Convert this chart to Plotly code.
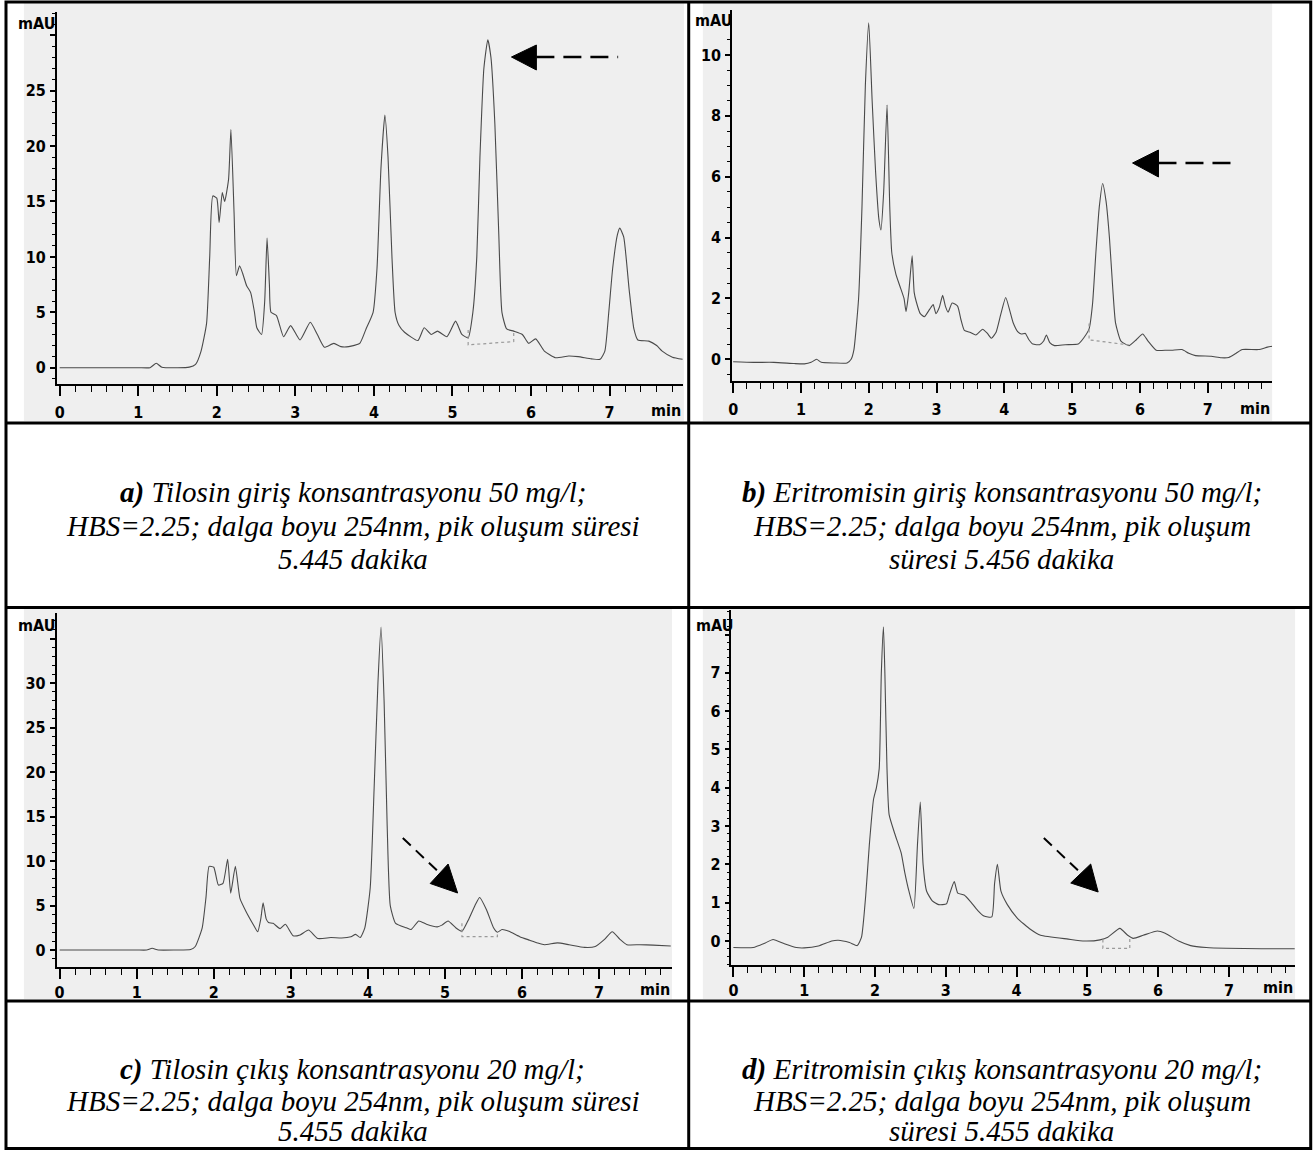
import plotly.graph_objects as go

W, H = 1316, 1151

# ---------------- data ----------------
# a) Tilosin inlet 50 mg/l
time_a = [0.0, 0.5, 1.0, 1.15, 1.23, 1.3, 1.5, 1.65, 1.73, 1.8, 1.87, 1.91, 1.95, 2.0, 2.03, 2.07, 2.1,
          2.15, 2.18, 2.22, 2.25, 2.29, 2.33, 2.38, 2.43, 2.48, 2.51, 2.57, 2.61, 2.64, 2.67, 2.69, 2.76,
          2.85, 2.94, 3.06, 3.19, 3.28, 3.37, 3.49, 3.58, 3.68, 3.82, 3.9, 3.99, 4.04, 4.09, 4.14, 4.18,
          4.23, 4.27, 4.32, 4.39, 4.56, 4.64, 4.73, 4.81, 4.93, 5.04, 5.12, 5.2, 5.26, 5.31, 5.35, 5.4,
          5.45, 5.49, 5.54, 5.59, 5.63, 5.69, 5.78, 5.89, 5.97, 6.06, 6.17, 6.31, 6.48, 6.6, 6.77, 6.88,
          6.94, 6.99, 7.04, 7.1, 7.13, 7.18, 7.25, 7.31, 7.36, 7.5, 7.6, 7.67, 7.8, 7.93]
mau_a = [0.0, 0.0, 0.0, 0.0, 0.4, 0.05, 0.0, 0.05, 0.3, 1.5, 4.0, 10.0, 15.5, 15.3, 13.1, 15.8, 15.0,
         17.0, 21.5, 14.0, 8.3, 9.2, 8.5, 7.4, 6.8, 5.0, 3.6, 3.0, 6.0, 11.7, 7.5, 5.0, 4.7,
         2.8, 3.8, 2.5, 4.1, 3.0, 1.85, 2.2, 1.9, 1.9, 2.2, 3.5, 5.0, 9.0, 18.0, 22.8, 19.0,
         10.0, 5.0, 3.8, 3.2, 2.45, 3.6, 3.0, 3.3, 2.8, 4.2, 3.0, 2.7, 5.0, 10.0, 19.0, 27.0,
         29.6, 28.0, 22.0, 12.0, 5.0, 3.5, 3.3, 3.0, 2.2, 2.6, 1.5, 0.9, 1.06, 1.0, 0.8, 0.76,
         1.5, 5.0, 9.0, 12.0, 12.6, 11.8, 7.0, 3.5, 2.5, 2.4, 2.0, 1.5, 0.95, 0.76]
base_time_a = [5.2, 5.2, 5.78, 5.78]
base_mau_a = [3.4, 2.06, 2.36, 3.3]

# b) Eritromisin inlet 50 mg/l
time_b = [0.0, 0.3, 0.6, 0.9, 1.05, 1.15, 1.23, 1.3, 1.5, 1.68, 1.74, 1.78, 1.85, 1.9, 1.95, 2.0, 2.05,
          2.1, 2.15, 2.18, 2.22, 2.27, 2.31, 2.34, 2.4, 2.46, 2.52, 2.55, 2.59, 2.64, 2.67, 2.7, 2.76,
          2.82, 2.9, 2.95, 2.99, 3.04, 3.09, 3.13, 3.17, 3.23, 3.31, 3.36, 3.41, 3.5, 3.58, 3.68, 3.75,
          3.81, 3.88, 3.95, 4.02, 4.08, 4.13, 4.2, 4.25, 4.31, 4.36, 4.42, 4.52, 4.58, 4.62, 4.67, 4.74,
          4.9, 5.09, 5.17, 5.25, 5.3, 5.35, 5.4, 5.45, 5.5, 5.55, 5.6, 5.64, 5.72, 5.84, 5.95, 6.04,
          6.12, 6.24, 6.4, 6.47, 6.62, 6.72, 6.82, 7.05, 7.2, 7.31, 7.42, 7.51, 7.75, 7.88, 7.95]
mau_b = [-0.08, -0.1, -0.1, -0.14, -0.15, -0.1, 0.0, -0.1, -0.12, -0.12, 0.0, 0.3, 2.0, 5.0, 9.0, 11.06, 8.5,
         6.2, 4.6, 4.25, 5.5, 8.36, 5.0, 3.5, 2.8, 2.4, 2.0, 1.57, 2.2, 3.4, 2.2, 1.9, 1.5,
         1.4, 1.65, 1.8, 1.5, 1.7, 2.1, 1.75, 1.55, 1.85, 1.75, 1.3, 0.95, 0.88, 0.8, 0.99, 0.85,
         0.69, 0.9, 1.5, 2.03, 1.6, 1.2, 0.9, 0.83, 0.85, 0.65, 0.5, 0.48, 0.6, 0.8, 0.55, 0.45,
         0.48, 0.5, 0.7, 1.0, 1.8, 3.5, 5.0, 5.78, 5.2, 4.0, 2.3, 1.2, 0.6, 0.45, 0.65, 0.83,
         0.6, 0.3, 0.3, 0.3, 0.32, 0.2, 0.12, 0.1, 0.05, 0.06, 0.2, 0.32, 0.32, 0.4, 0.43]
base_time_b = [5.25, 5.25, 5.84]
base_mau_b = [1.18, 0.64, 0.47]

# c) Tilosin outlet 20 mg/l
time_c = [0.0, 0.5, 1.0, 1.13, 1.2, 1.28, 1.5, 1.7, 1.76, 1.85, 1.9, 1.94, 2.0, 2.06, 2.12, 2.18, 2.22,
          2.28, 2.34, 2.42, 2.51, 2.57, 2.61, 2.64, 2.68, 2.71, 2.77, 2.86, 2.93, 3.03, 3.12, 3.23, 3.35,
          3.52, 3.66, 3.78, 3.84, 3.9, 3.96, 4.03, 4.08, 4.13, 4.17, 4.21, 4.25, 4.29, 4.36, 4.5, 4.56,
          4.66, 4.76, 4.9, 4.96, 5.04, 5.14, 5.22, 5.31, 5.4, 5.45, 5.54, 5.63, 5.68, 5.74, 5.83, 5.97,
          6.1, 6.2, 6.29, 6.46, 6.61, 6.81, 6.95, 7.07, 7.17, 7.27, 7.36, 7.53, 7.7, 7.93]
mau_c = [0.0, 0.0, 0.0, 0.0, 0.2, 0.0, 0.0, 0.05, 0.4, 2.5, 6.0, 9.4, 9.3, 7.3, 7.5, 10.2, 6.4,
         9.4, 5.8, 4.3, 2.9, 2.06, 3.5, 5.3, 3.5, 3.1, 3.0, 2.4, 2.9, 1.6, 1.7, 2.25, 1.3,
         1.4, 1.35, 1.5, 1.76, 1.4, 2.5, 7.0, 18.0, 30.0, 36.3, 28.0, 14.0, 5.0, 3.0, 2.5, 2.3,
         3.26, 2.9, 2.6, 2.8, 3.26, 2.5, 2.1, 3.5, 5.2, 5.9, 4.5, 2.5, 2.0, 2.3, 2.1, 1.5,
         1.1, 0.8, 0.6, 0.8, 0.6, 0.3, 0.4, 1.2, 2.06, 1.2, 0.6, 0.6, 0.55, 0.45]
base_time_c = [5.22, 5.22, 5.68, 5.68]
base_mau_c = [3.0, 1.5, 1.5, 2.0]

# d) Eritromisin outlet 20 mg/l
time_d = [0.0, 0.28, 0.45, 0.56, 0.72, 0.89, 1.0, 1.2, 1.39, 1.48, 1.64, 1.75, 1.81, 1.87, 1.92, 1.98,
          2.02, 2.06, 2.09, 2.12, 2.14, 2.17, 2.2, 2.28, 2.37, 2.42, 2.48, 2.55, 2.6, 2.64, 2.68, 2.73,
          2.81, 2.9, 3.01, 3.05, 3.12, 3.17, 3.26, 3.34, 3.45, 3.54, 3.65, 3.69, 3.73, 3.78, 3.87, 4.01,
          4.2, 4.34, 4.73, 4.96, 5.18, 5.29, 5.46, 5.57, 5.65, 5.79, 5.99, 6.1, 6.29, 6.46, 6.68, 6.96,
          7.46, 7.93]
mau_d = [-0.17, -0.17, -0.05, 0.04, -0.07, -0.17, -0.18, -0.13, 0.0, 0.02, -0.04, -0.12, 0.1, 1.2, 2.5, 3.7,
         4.0, 4.5, 7.0, 8.2, 7.0, 4.5, 3.3, 2.8, 2.3, 1.8, 1.3, 0.85, 2.5, 3.63, 2.0, 1.3,
         1.05, 0.95, 0.97, 1.2, 1.55, 1.25, 1.2, 1.05, 0.8, 0.65, 0.63, 1.5, 2.0, 1.3, 0.95, 0.6,
         0.3, 0.15, 0.05, 0.0, 0.03, 0.1, 0.33, 0.15, 0.07, 0.15, 0.26, 0.2, 0.0, -0.12, -0.17, -0.19,
         -0.2, -0.2]
base_time_d = [5.22, 5.22, 5.6, 5.6]
base_mau_d = [0.04, -0.19, -0.19, 0.12]

x_tick_labels = ["0", "1", "2", "3", "4", "5", "6", "7"]
y_ticks_a = [0, 5, 10, 15, 20, 25, 30]
y_ticks_b = [0, 2, 4, 6, 8, 10]
y_ticks_c = [0, 5, 10, 15, 20, 25, 30, 35]
y_ticks_d = [0, 1, 2, 3, 4, 5, 6, 7, 8]

captions = {
    "a": ["<b><i>a)</i></b><i> Tilosin giriş konsantrasyonu 50 mg/l;</i>",
          "<i>HBS=2.25; dalga boyu 254nm, pik oluşum süresi</i>",
          "<i>5.445 dakika</i>"],
    "b": ["<b><i>b)</i></b><i> Eritromisin giriş konsantrasyonu 50 mg/l;</i>",
          "<i>HBS=2.25; dalga boyu 254nm, pik oluşum</i>",
          "<i>süresi 5.456 dakika</i>"],
    "c": ["<b><i>c)</i></b><i> Tilosin çıkış konsantrasyonu 20 mg/l;</i>",
          "<i>HBS=2.25; dalga boyu 254nm, pik oluşum süresi</i>",
          "<i>5.455 dakika</i>"],
    "d": ["<b><i>d)</i></b><i> Eritromisin çıkış konsantrasyonu 20 mg/l;</i>",
          "<i>HBS=2.25; dalga boyu 254nm, pik oluşum</i>",
          "<i>süresi 5.455 dakika</i>"],
}

# ---------------- layout helpers (pixel -> paper) ----------------
def px(x):
    return x / W

def py(y):
    return 1 - y / H

AXFONT = dict(family="DejaVu Sans Condensed, Liberation Sans Narrow, Arial Narrow, sans-serif",
              size=16, color="black", weight="bold")
CAPFONT = dict(family="Liberation Serif, Times New Roman, serif", size=29, color="black")
TRACE_COLOR = "#4a4a4a"
SCAN_GREY = "#efefef"

# panel geometry: plot-area pixels, axis ranges, grey scan box, ticks
panels = [
    dict(key="a", t=time_a, m=mau_a, bt=base_time_a, bm=base_mau_a,
         dom=(53, 681, 12, 384), xr=(-0.036, 7.934), yr=(-1.47, 32.1),
         box=(20, 682, 3, 421), yt=y_ticks_a, yl=["0", "5", "10", "15", "20", "25", ""], ym=1,
         mau=(33, 24), minlab=(681, 410), so=3),
    dict(key="b", t=time_b, m=mau_b, bt=base_time_b, bm=base_mau_b,
         dom=(730.3, 1272, 10, 381), xr=(-0.016, 7.95), yr=(-0.713, 11.48),
         box=(701, 1272, 3, 421), yt=y_ticks_b, yl=["0", "2", "4", "6", "8", "10"], ym=0.5,
         mau=(712, 21), minlab=(1272, 408), so=3),
    dict(key="c", t=time_c, m=mau_c, bt=base_time_c, bm=base_mau_c,
         dom=(52.7, 669.6, 613, 967.3), xr=(-0.04, 7.94), yr=(-1.94, 37.87),
         box=(20, 670, 609, 999), yt=y_ticks_c, yl=["0", "5", "10", "15", "20", "25", "30", ""], ym=1,
         mau=(33, 625), minlab=(670, 989), so=0),
    dict(key="d", t=time_d, m=mau_d, bt=base_time_d, bm=base_mau_d,
         dom=(729.7, 1295, 610, 965), xr=(-0.027, 7.935), yr=(-0.626, 8.64),
         box=(701, 1295, 609, 999), yt=y_ticks_d, yl=["0", "1", "2", "3", "4", "5", "6", "7", ""], ym=0.2,
         mau=(713, 625), minlab=(1295, 987), so=0),
]

fig = go.Figure()
shapes = []
annotations = []

for i, p in enumerate(panels, start=1):
    xa = "x" if i == 1 else f"x{i}"
    ya = "y" if i == 1 else f"y{i}"
    xl, xrgt, yt_px, yb_px = p["dom"]
    fig.add_trace(go.Scatter(x=p["t"], y=p["m"], mode="lines", xaxis=xa, yaxis=ya,
                             line=dict(color=TRACE_COLOR, width=1.1, shape="spline", smoothing=0.5),
                             showlegend=False, hoverinfo="skip"))
    fig.add_trace(go.Scatter(x=p["bt"], y=p["bm"], mode="lines", xaxis=xa, yaxis=ya,
                             line=dict(color="#9a9a9a", width=1.2, dash="dot"),
                             showlegend=False, hoverinfo="skip"))
    xkey = "xaxis" if i == 1 else f"xaxis{i}"
    ykey = "yaxis" if i == 1 else f"yaxis{i}"
    fig.update_layout(**{
        xkey: dict(domain=[px(xl), px(xrgt)], range=list(p["xr"]), anchor=ya,
                   showgrid=False, zeroline=False, showline=True, linecolor="black", linewidth=1.5,
                   ticks="outside", ticklen=10, tickwidth=1.5, tickcolor="black",
                   tickvals=list(range(8)), ticktext=x_tick_labels, tickfont=AXFONT,
                   ticklabelstandoff=p["so"],
                   minor=dict(ticks="outside", ticklen=6, dtick=0.2, tick0=0, tickcolor="black",
                              tickwidth=1, showgrid=False),
                   fixedrange=True),
        ykey: dict(domain=[py(yb_px), py(yt_px)], range=list(p["yr"]), anchor=xa,
                   showgrid=False, zeroline=False, showline=True, linecolor="black", linewidth=1.5,
                   ticks="outside", ticklen=5, tickwidth=1.5, tickcolor="black",
                   tickvals=p["yt"], ticktext=p["yl"], tickfont=AXFONT, ticklabelstandoff=1,
                   minor=dict(ticks="outside", ticklen=3, dtick=p["ym"], tick0=0, tickcolor="black",
                              tickwidth=1, showgrid=False),
                   fixedrange=True),
    })
    bx0, bx1, by0, by1 = p["box"]
    shapes.append(dict(type="rect", xref="paper", yref="paper", x0=px(bx0), x1=px(bx1),
                       y0=py(by1), y1=py(by0), fillcolor=SCAN_GREY, line=dict(width=0), layer="below"))
    annotations.append(dict(text="mAU", xref="paper", yref="paper", x=px(p["mau"][0]), y=py(p["mau"][1]),
                            showarrow=False, font=AXFONT, xanchor="center", yanchor="middle"))
    annotations.append(dict(text="min", xref="paper", yref="paper", x=px(p["minlab"][0]),
                            y=py(p["minlab"][1]), showarrow=False, font=AXFONT,
                            xanchor="right", yanchor="middle"))

# arrows (pixel positions of the drawn pointers)
def tri(points):
    s = "M " + " L ".join(f"{px(a)},{py(b)}" for a, b in points) + " Z"
    return dict(type="path", xref="paper", yref="paper", path=s, fillcolor="black",
                line=dict(color="black", width=1))

def dline(x0, y0, x1, y1, w, dash):
    return dict(type="line", xref="paper", yref="paper", x0=px(x0), y0=py(y0), x1=px(x1), y1=py(y1),
                line=dict(color="black", width=w, dash=dash))

shapes += [
    tri([(509, 57), (534, 45), (534, 70)]), dline(534, 57, 616, 57, 2.5, "18px,9px"),
    tri([(1132, 163), (1158, 150), (1158, 177)]), dline(1158, 163, 1239, 163, 2.5, "18px,9px"),
    tri([(455, 893), (427.5, 883.5), (445.5, 864)]), dline(400, 838, 437, 873, 2, "11px,7px"),
    tri([(1097.5, 892), (1070, 883), (1090, 864)]), dline(1043, 838, 1080, 873, 2, "11px,7px"),
]

# table borders
border = dict(color="black", width=3)
shapes += [
    dict(type="rect", xref="paper", yref="paper", x0=px(2), x1=px(1310.7), y0=py(1148.5), y1=py(2),
         line=border),
    dict(type="line", xref="paper", yref="paper", x0=px(686.8), x1=px(686.8), y0=py(1148.5), y1=py(2),
         line=border),
    dict(type="line", xref="paper", yref="paper", x0=px(2), x1=px(1310.7), y0=py(423), y1=py(423),
         line=border),
    dict(type="line", xref="paper", yref="paper", x0=px(2), x1=px(1310.7), y0=py(607.5), y1=py(607.5),
         line=border),
    dict(type="line", xref="paper", yref="paper", x0=px(2), x1=px(1310.7), y0=py(1001), y1=py(1001),
         line=border),
]

# captions (one annotation per line)
cap_pos = {"a": (350, [492, 526, 559]), "b": (1001, [492, 526, 559]),
           "c": (350, [1069, 1101, 1131]), "d": (1001, [1069, 1101, 1131])}
for k, lines in captions.items():
    cx, ys = cap_pos[k]
    for txt, yy in zip(lines, ys):
        annotations.append(dict(text=txt, xref="paper", yref="paper", x=px(cx), y=py(yy),
                                showarrow=False, font=CAPFONT, xanchor="center", yanchor="middle",
                                borderpad=0))

fig.update_layout(width=W, height=H, autosize=False, margin=dict(l=0, r=0, t=0, b=0, pad=0),
                  paper_bgcolor="white", plot_bgcolor="rgba(0,0,0,0)",
                  shapes=shapes, annotations=annotations, showlegend=False)

fig.write_html("out.html", config={"displayModeBar": False})
